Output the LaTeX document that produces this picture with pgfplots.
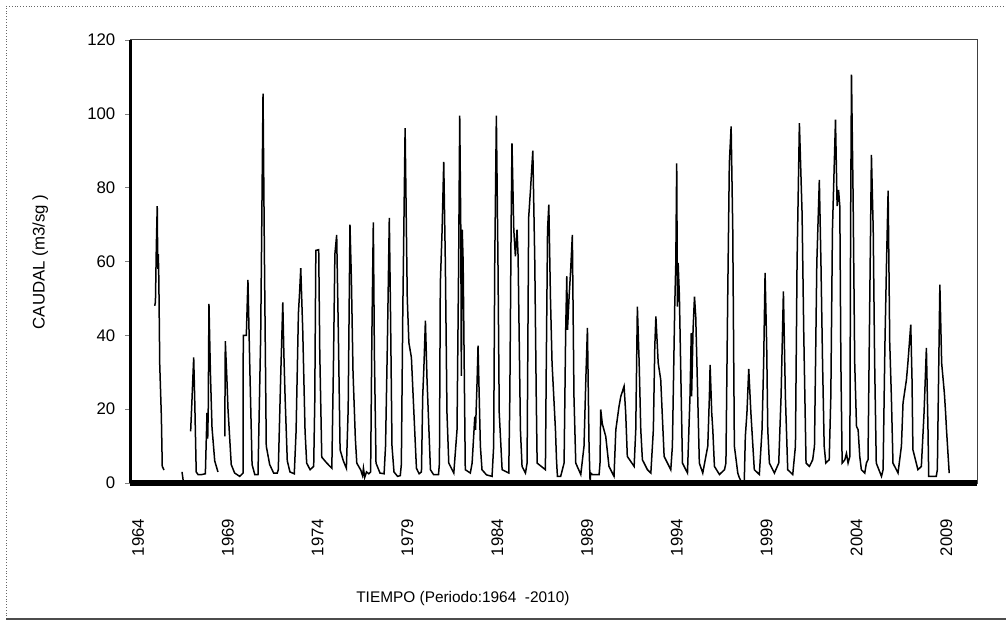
\documentclass[border=0pt]{standalone}
\usepackage{fontspec}
\setmainfont{Liberation Sans}
\usepackage{pgfplots}
\pgfplotsset{compat=1.18}

\begin{document}
\fontsize{8}{9}\selectfont
\begin{tikzpicture}
\begin{axis}[
    scale only axis,
    width=423.5pt, height=221.5pt,
    xmin=1963.555, xmax=2010.71,
    ymin=0, ymax=120,
    xtick={1964,1969,...,2009},
    ytick={0,20,...,120},
    tick align=outside,
    xtick pos=bottom, ytick pos=left,
    xtick style={draw=none},
    major tick length=2.5pt,
    x tick label style={rotate=90, anchor=east},
    xticklabel shift=12.5pt,
    yticklabel shift=2pt,
    /pgf/number format/assume math mode=true,
    /pgf/number format/1000 sep={},
    tick label style={font=\fontsize{8.4}{9}\selectfont},
    axis line style={draw=black!75, line width=0.5pt},
    unbounded coords=jump,
    clip=false,
]
% outer chart frame
\draw[densely dotted, black!60] (axis description cs:-0.1464,-0.307) -- (axis description cs:-0.1464,1.0767) -- (axis description cs:1.0342,1.0767);
\draw[black!70, line width=0.8pt] (axis description cs:-0.1464,-0.307) -- (axis description cs:1.0342,-0.307);
\coordinate (bbA) at (axis description cs:-0.1535,-0.3138);
\coordinate (bbB) at (axis description cs:1.0342,1.0903);
% heavy spines
\draw[line width=1.5pt] (axis description cs:0,0) -- (axis description cs:0,1);
\draw[line width=2.8pt] (axis description cs:0,0) -- (axis description cs:1,0);

\node[rotate=90, font=\fontsize{8.4}{9}\selectfont] at (axis description cs:-0.106,0.499) {CAUDAL (m3/sg )};
\node[font=\fontsize{7.7}{9}\selectfont] at (axis description cs:0.393,-0.26) {TIEMPO (Periodo:1964 \ -2010)};

\addplot[black, line width=0.75pt] coordinates {
(1964.93,48) (1964.97,49) (1965.02,64) (1965.07,75) (1965.10,58) (1965.13,62) (1965.16,55) (1965.21,32) (1965.30,18) (1965.35,4.5) (1965.45,3.5)
(1965.9,nan)
(1966.45,3) (1966.52,0.5)
(1966.7,nan)
(1966.93,14) (1967.00,22) (1967.10,34) (1967.16,22) (1967.24,3) (1967.34,2.3) (1967.56,2.3) (1967.75,2.5) (1967.84,19) (1967.88,12) (1967.91,20) (1967.95,48.5) (1968.03,30) (1968.12,15) (1968.27,6) (1968.45,3)
(1968.6,nan)
(1968.83,12.6) (1968.86,38.4) (1968.95,28) (1969.01,20) (1969.19,5) (1969.38,2.7) (1969.66,1.8) (1969.85,2.7) (1969.86,40) (1970.03,40) (1970.12,55) (1970.23,30) (1970.35,5) (1970.50,2.3) (1970.68,2.3) (1970.83,40) (1970.96,105.5) (1971.04,60) (1971.14,10) (1971.33,5)
(1971.55,2.7) (1971.75,2.7) (1971.81,3.6) (1971.95,30) (1972.06,48.9) (1972.12,35) (1972.19,23) (1972.31,6) (1972.46,3) (1972.70,2.5)
(1972.80,14) (1972.93,46) (1973.00,52) (1973.06,58.2) (1973.17,41.5) (1973.30,14) (1973.39,5.4) (1973.58,3.6) (1973.78,4.5)
(1973.84,22) (1973.90,63) (1974.06,63.2) (1974.12,35) (1974.23,7) (1974.51,5.4) (1974.69,4.5) (1974.79,4)
(1974.88,32) (1974.96,62) (1975.06,67.2) (1975.15,41.5) (1975.25,9) (1975.43,6) (1975.60,4) (1975.70,20) (1975.80,70) (1975.88,55) (1975.97,30) (1976.10,12) (1976.18,5.4) (1976.40,3.5) (1976.50,2) (1976.55,4) (1976.62,1.5) (1976.72,3) (1976.85,2.5)
(1976.95,3) (1977.02,40) (1977.10,70.6) (1977.16,35) (1977.25,5.4) (1977.47,2.7) (1977.70,2.5)
(1977.78,10) (1977.88,37) (1977.99,71.8) (1978.06,45) (1978.14,10) (1978.25,3) (1978.45,1.8) (1978.60,2)
(1978.66,5) (1978.74,46) (1978.87,96.1) (1978.99,50) (1979.08,38) (1979.22,34) (1979.35,20) (1979.50,4) (1979.65,2.5) (1979.78,3)
(1979.85,23.5) (1979.92,32) (1980.00,44) (1980.09,28) (1980.28,3.6) (1980.45,2.3) (1980.73,2.3)
(1980.78,5.4) (1980.83,54) (1980.93,68.6) (1981.02,87) (1981.11,59.6) (1981.20,19) (1981.30,5.4) (1981.58,2.7)
(1981.76,14.4) (1981.85,59.6) (1981.91,99.5) (1981.97,68.6) (1982.00,29) (1982.05,68.6) (1982.10,60) (1982.22,3.6) (1982.50,2.7)
(1982.60,5.4) (1982.75,18) (1982.79,14.4) (1982.88,28) (1982.93,37.2) (1983.06,10) (1983.15,3.6) (1983.40,2.2) (1983.71,1.8)
(1983.80,10) (1983.86,59.6) (1983.95,99.5) (1984.04,59.6) (1984.11,19) (1984.27,3.6) (1984.64,2.7)
(1984.70,23.5) (1984.77,68.6) (1984.82,92) (1984.92,68.6) (1985.01,61.4) (1985.10,68.6) (1985.16,61.4) (1985.29,14.4) (1985.38,4.5) (1985.57,2.7)
(1985.66,5.4) (1985.75,72) (1985.85,79.4) (1985.98,90) (1986.09,59.6) (1986.17,23.5) (1986.22,5.4) (1986.68,3.6)
(1986.73,32.5) (1986.80,68.6) (1986.87,75.4) (1986.96,50.5) (1987.05,32.5) (1987.24,14.4) (1987.30,6) (1987.35,1.8) (1987.53,1.8)
(1987.72,5.4) (1987.81,41.5) (1987.87,56) (1987.91,41.5) (1988.00,50.5) (1988.09,58) (1988.18,67.2) (1988.27,23.5) (1988.37,5.4) (1988.65,2.3)
(1988.83,10) (1988.93,28) (1989.02,42) (1989.11,10) (1989.17,0) (1989.20,2.7) (1989.30,2.3) (1989.67,2.3)
(1989.72,5.4) (1989.76,19.9) (1989.85,16) (1989.94,14.4) (1990.04,12.6) (1990.22,4.5) (1990.50,1.8)
(1990.60,14.4) (1990.78,20.8) (1990.88,23.5) (1991.06,26.2) (1991.15,19) (1991.24,7.2) (1991.62,4.5)
(1991.71,14.4) (1991.80,47.8) (1991.90,32.5) (1991.99,14.4) (1992.08,6.3) (1992.36,3.6) (1992.55,2.7)
(1992.69,14.4) (1992.77,37) (1992.83,45.1) (1992.96,32.5) (1993.10,28) (1993.29,7.2) (1993.66,3.6)
(1993.75,10) (1993.88,47.8) (1993.94,59.6) (1993.99,86.6) (1994.03,47.8) (1994.07,59.6) (1994.14,50.5) (1994.31,5.4) (1994.59,2.7)
(1994.73,23.5) (1994.80,40.6) (1994.82,23.5) (1994.90,41.5) (1994.98,50.5) (1995.05,45) (1995.16,23.5) (1995.25,5.4) (1995.44,2.7)
(1995.72,10) (1995.81,23.5) (1995.85,32) (1995.94,19) (1996.00,14.4) (1996.09,4.5) (1996.37,2.3) (1996.65,3.6)
(1996.73,5.4) (1996.83,50.5) (1996.92,86.6) (1997.02,96.6) (1997.11,68.6) (1997.20,10) (1997.39,2.7) (1997.48,1.4) (1997.63,0) (1997.75,0)
(1997.81,12.6) (1997.90,19) (1998.00,30.9) (1998.12,19) (1998.31,3.6) (1998.59,2.3)
(1998.74,14.4) (1998.83,32.5) (1998.91,56.9) (1999.00,37) (1999.06,14.4) (1999.15,5.4) (1999.43,2.7)
(1999.67,5.4) (1999.80,23.5) (1999.93,51.9) (2000.04,23.5) (2000.17,3.6) (2000.45,2.3)
(2000.60,10) (2000.69,59.6) (2000.82,97.5) (2000.97,73) (2001.06,41.5) (2001.19,5.4) (2001.38,4.5) (2001.56,6.3)
(2001.66,10) (2001.79,59.6) (2001.93,82.1) (2002.02,59.6) (2002.11,32.5) (2002.20,10) (2002.29,5.4) (2002.48,6.3)
(2002.57,23.5) (2002.66,68.6) (2002.83,98.4) (2002.92,75) (2003.00,79.4) (2003.07,75) (2003.13,32.5) (2003.20,5.4) (2003.35,6.3) (2003.44,8) (2003.53,5.4) (2003.63,7.2)
(2003.67,68.6) (2003.72,110.6) (2003.81,77.6) (2003.90,32.5) (2004.00,15.3) (2004.09,14.4) (2004.18,7.2) (2004.27,3.6) (2004.46,2.7) (2004.55,5.4) (2004.64,6.3)
(2004.74,50.5) (2004.83,88.9) (2004.93,68.6) (2005.01,32.5) (2005.10,5.4) (2005.39,1.8) (2005.48,3.6)
(2005.58,37) (2005.67,59.6) (2005.76,79.2) (2005.85,38) (2005.94,23.5) (2006.03,5.4) (2006.31,2.7)
(2006.50,10) (2006.59,21.7) (2006.78,28) (2006.86,32.5) (2007.02,42.9) (2007.09,28) (2007.14,9) (2007.42,3.6) (2007.61,4.5)
(2007.76,19) (2007.89,36.6) (2007.98,14.4) (2008.02,1.8) (2008.44,1.8) (2008.50,3.6)
(2008.58,32.5) (2008.64,53.7) (2008.74,32.5) (2008.89,24.4) (2008.96,19) (2009.01,14.4) (2009.16,2.7)
};
\end{axis}
\pgfresetboundingbox
\path[use as bounding box] (bbA) rectangle (bbB);
\end{tikzpicture}
\end{document}
